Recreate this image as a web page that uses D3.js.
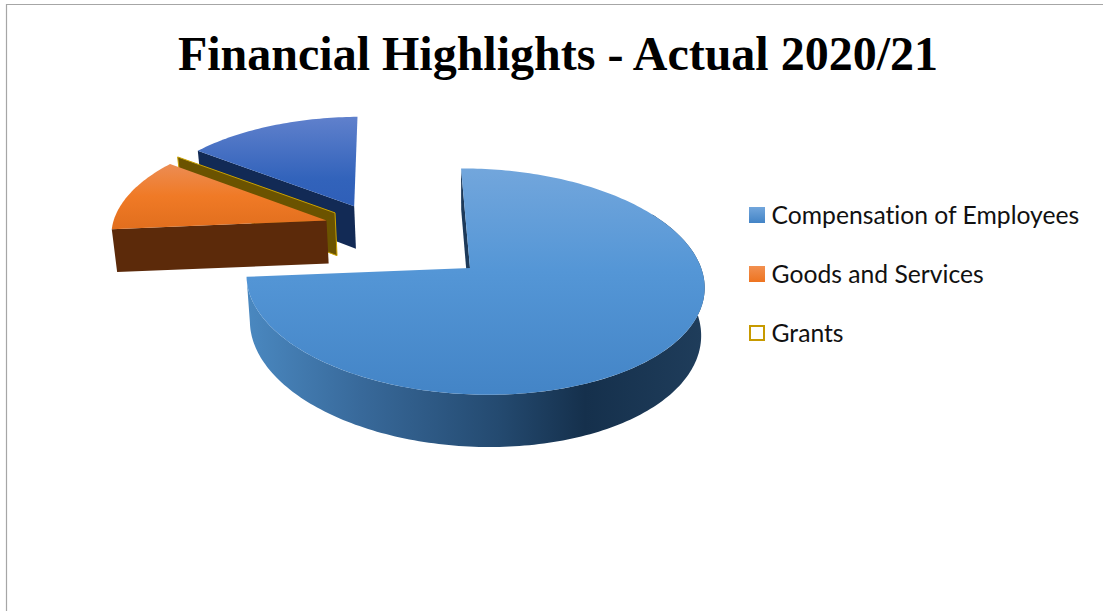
<!DOCTYPE html>
<html>
<head>
<meta charset="utf-8">
<title>Financial Highlights</title>
<script src="https://cdn.jsdelivr.net/npm/d3@7"></script>
<style>
  html, body { margin: 0; padding: 0; background: #fff; overflow: hidden; }
  svg { display: block; }
</style>
</head>
<body>
<div id="chart"></div>
<script>
// Data (share of the pie, percent). The last slice has no legend entry.
const categories = ["Compensation of Employees", "Goods and Services", "Grants", ""];
const shares = [73.6, 11.6, 0.1, 14.7];
const legendItems = categories.slice(0, 3);
const titleText = "Financial Highlights - Actual 2020/21";

const width = 1103, height = 611;

// Pie placement on screen and the perspective of the tilted plane
const cx = 470, cy = 268, rx = 227, ry = 111.5;
const perspectiveZ = 0.12, perspectiveX = -0.018, skew = -12;
const depth = 46, taper = 0.985;
const rotation = 0.5 * Math.PI / 180;

// How far each slice is pulled out, in units of the radius, and its drawn radius
const explodeX = [0, -0.65, -0.611, -0.52];
const explodeZ = [0, 0.455, 0.5315, 0.6];
const sliceRadius = [1, 1.03, 1.04, 1.035];

const svg = d3.select("#chart").append("svg")
    .attr("width", width)
    .attr("height", height);

const defs = svg.append("defs");

function vertical(id, stops, y1, y2) {
  const g = defs.append("linearGradient").attr("id", id)
      .attr("gradientUnits", "userSpaceOnUse")
      .attr("x1", 0).attr("x2", 0).attr("y1", y1).attr("y2", y2);
  stops.forEach(s => g.append("stop").attr("offset", s[0]).attr("stop-color", s[1]));
}

vertical("mainTop", [[0, "#72a6dc"], [0.45, "#5496d6"], [1, "#4384c6"]], 169, 397);
vertical("blueTop", [[0, "#5f80cc"], [0.7, "#3263bb"], [1, "#2f5fb8"]], 118, 205);
vertical("orangeTop", [[0, "#ec8c52"], [0.5, "#f07a26"], [1, "#e26f1e"]], 165, 227);
vertical("swatchBlue", [[0, "#72a6dc"], [1, "#4384c6"]], -8, 8);
vertical("swatchOrange", [[0, "#f29050"], [1, "#ee7420"]], -8, 8);

const sideGradient = defs.append("linearGradient").attr("id", "mainSide")
    .attr("gradientUnits", "userSpaceOnUse")
    .attr("x1", 247).attr("x2", 704).attr("y1", 0).attr("y2", 0);
[[0, "#4a88c0"], [0.25, "#38699a"], [0.55, "#244a70"], [0.74, "#15304c"], [1, "#1f3d5b"]]
  .forEach(s => sideGradient.append("stop").attr("offset", s[0]).attr("stop-color", s[1]));

// Project a point of the pie plane to the screen, lower = true gives the bottom of the wall
function project(X, Z, lower) {
  const s = 1 / (1 + perspectiveZ * Z + perspectiveX * X);
  const x = (rx * X + skew * Z) * s, y = -ry * Z * s;
  if (!lower) return [cx + x, cy + y];
  return [cx + x * taper, cy + y + depth * s];
}

const line = d3.line();
const pie = d3.pie().sort(null).startAngle(rotation).endAngle(rotation + 2 * Math.PI);
const slices = pie(shares);

function rim(i, a0, a1, lower) {
  const n = Math.max(2, Math.ceil(Math.abs(a1 - a0) / 0.02));
  return d3.range(n + 1).map(k => {
    const a = a0 + (a1 - a0) * k / n;
    const r = sliceRadius[i];
    return project(explodeX[i] + r * Math.sin(a), explodeZ[i] + r * Math.cos(a), lower);
  });
}
const apex = (i, lower) => project(explodeX[i], explodeZ[i], lower);

function topFace(i) {
  return line([apex(i), ...rim(i, slices[i].startAngle, slices[i].endAngle)]) + "Z";
}
// Flat cut wall along the radius at angle a
function cutWall(i, a) {
  const outer = rim(i, a, a);
  const outerLow = rim(i, a, a, true);
  return line([apex(i), outer[0], outerLow[0], apex(i, true)]) + "Z";
}

const g = svg.append("g");

// Blue slice at the back
g.append("path").attr("d", cutWall(3, slices[3].startAngle)).attr("fill", "#122a55");
g.append("path").attr("d", topFace(3)).attr("fill", "url(#blueTop)");

// Grants: almost no top, only the wall shows
g.append("path").attr("d", cutWall(2, slices[2].startAngle))
    .attr("fill", "#6b5300").attr("stroke", "#c9a100").attr("stroke-width", 1);

// Orange slice
g.append("path").attr("d", cutWall(1, slices[1].startAngle)).attr("fill", "#5c2a0a");
g.append("path").attr("d", topFace(1)).attr("fill", "url(#orangeTop)");

// Main slice: start wall, outer wall, then the top
g.append("path").attr("d", cutWall(0, slices[0].startAngle)).attr("fill", "#1d3a5a");
const wallStart = Math.PI / 3, wallEnd = slices[0].endAngle;
g.append("path")
    .attr("d", line([...rim(0, wallStart, wallEnd), ...rim(0, wallEnd, wallStart, true)]) + "Z")
    .attr("fill", "url(#mainSide)");
g.append("path").attr("d", topFace(0)).attr("fill", "url(#mainTop)");

// Frame of the chart area, open at the right and bottom like the cropped picture
svg.append("path")
    .attr("d", line([[6.5, height], [6.5, 4.5], [width, 4.5]]))
    .attr("fill", "none").attr("stroke", "#a6a6a6").attr("stroke-width", 1.2);

// Title
svg.append("text")
    .attr("x", 558).attr("y", 70)
    .attr("text-anchor", "middle")
    .style("font-family", "'Liberation Serif', serif")
    .style("font-weight", "bold")
    .style("font-size", "48px")
    .text(titleText);

// Legend
const legendY = d3.scalePoint().domain(legendItems).range([215, 333]);
const swatchFill = ["url(#swatchBlue)", "url(#swatchOrange)", "#fff"];
const swatchStroke = ["none", "none", "#c79a00"];

const legend = svg.append("g").selectAll("g")
    .data(legendItems)
    .enter().append("g")
    .attr("transform", d => `translate(749,${legendY(d)})`);

legend.append("rect")
    .attr("x", (d, i) => i === 2 ? 1 : 0)
    .attr("y", (d, i) => i === 2 ? -7 : -8)
    .attr("width", (d, i) => i === 2 ? 14 : 16)
    .attr("height", (d, i) => i === 2 ? 14 : 16)
    .attr("fill", (d, i) => swatchFill[i])
    .attr("stroke", (d, i) => swatchStroke[i])
    .attr("stroke-width", 2);

legend.append("text")
    .attr("x", 22.5)
    .attr("y", 8.5)
    .style("font-family", "Lato, sans-serif")
    .style("font-size", "24.7px")
    .style("font-variant-ligatures", "none")
    .style("fill", "#111")
    .text(d => d);
</script>
</body>
</html>
